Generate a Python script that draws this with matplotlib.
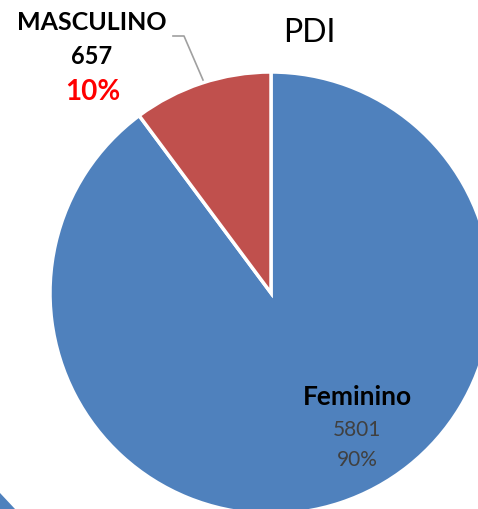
import matplotlib
matplotlib.use("Agg")
import matplotlib.pyplot as plt
from matplotlib.patches import Polygon

categories = ["Feminino", "MASCULINO"]
values = [5801, 657]
percent_labels = ["90%", "10%"]
colors = ["#4F81BD", "#C0504D"]
title = "PDI"

W, H = 478, 509
fig = plt.figure(figsize=(W / 100, H / 100), dpi=100)
ax = fig.add_axes([0, 0, 1, 1])

plt.rcParams["font.family"] = ["Lato", "DejaVu Sans"]

cx, cy, r = 271, H - 293, 221
ax.pie(values, colors=colors, startangle=90, counterclock=False,
       center=(cx, cy), radius=r, frame=True,
       wedgeprops=dict(edgecolor="white", linewidth=2.5))
ax.set_xlim(0, W)
ax.set_ylim(0, H)
ax.set_aspect("equal")
ax.axis("off")

# fragment of neighbouring chart at bottom-left
ax.add_patch(Polygon([(0, H - 493), (0, 0), (15, 0)], closed=True,
                     facecolor="#4F81BD", edgecolor="none"))

ax.text(309, H - 33, title, ha="center", va="center", fontsize=23, color="black")

# Masculino label
ax.text(92, H - 22, categories[1], ha="center", va="center", fontsize=18,
        fontweight="bold", color="black")
ax.text(92, H - 56, f"{values[1]}", ha="center", va="center", fontsize=17,
        fontweight="bold", color="black")
ax.text(93, H - 92, percent_labels[1], ha="center", va="center", fontsize=20,
        fontweight="bold", color="#FF0000")
ax.plot([173, 184, 203], [H - 36, H - 36, H - 80], color="#A0A0A0", lw=1.2)

# Feminino label
ax.text(357, H - 397, categories[0], ha="center", va="center", fontsize=19,
        fontweight="bold", color="black")
ax.text(357, H - 430, f"{values[0]}", ha="center", va="center", fontsize=15,
        color="#404040")
ax.text(357, H - 460, percent_labels[0], ha="center", va="center", fontsize=15,
        color="#404040")

fig.savefig("out.png", dpi=100)
